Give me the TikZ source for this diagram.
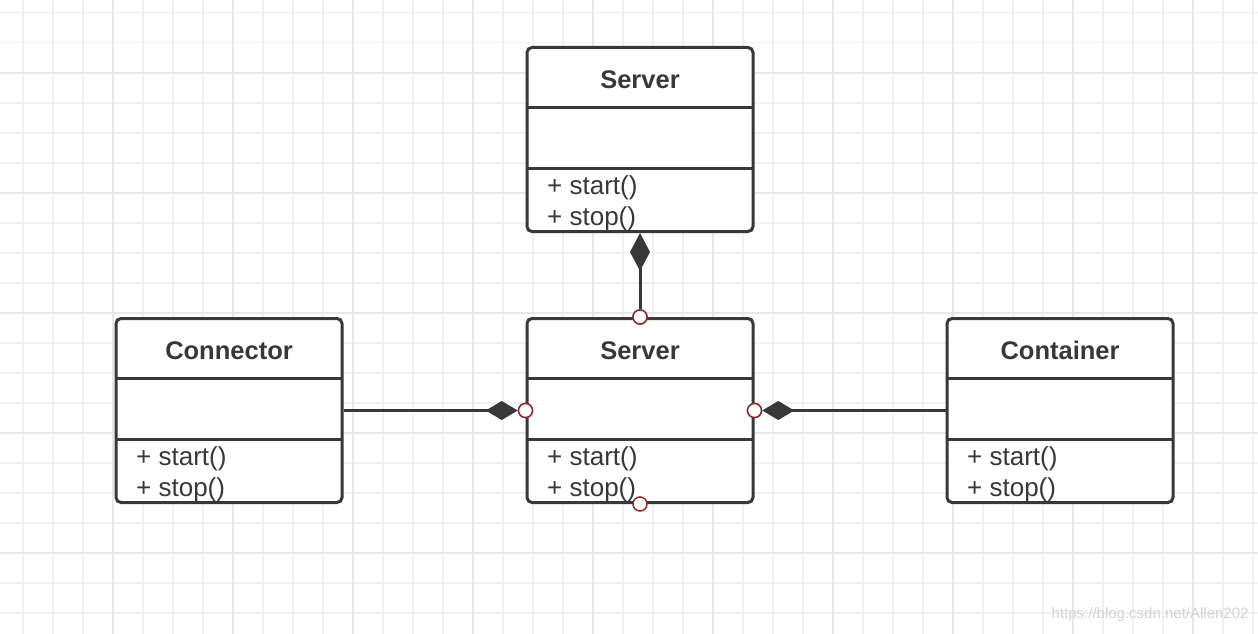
\documentclass[tikz,border=0pt]{standalone}
\usepackage{fontspec}
\setmainfont{Liberation Sans}
\usetikzlibrary{arrows.meta}
\definecolor{gridminor}{HTML}{F1F1F1}
\definecolor{gridmajor}{HTML}{E7E7E7}
\definecolor{boxline}{HTML}{383838}
\definecolor{portred}{HTML}{8E2B2B}
\definecolor{wmark}{HTML}{D4D4D4}

\begin{document}
\begin{tikzpicture}[x=1pt,y=-1pt,
  classbox/.style={draw=boxline,line width=3pt,rounded corners=5pt,fill=white,
    minimum width=226pt,minimum height=184pt,inner sep=0pt},
  divider/.style={draw=boxline,line width=3pt},
  title/.style={font=\fontsize{25.5}{30}\selectfont\bfseries,text=boxline},
  op/.style={font=\fontsize{26}{30}\selectfont,text=boxline,anchor=west,inner sep=0pt},
  port/.style={circle,draw=portred,fill=white,line width=1.5pt,minimum size=14pt,inner sep=0pt},
  comp/.style={draw=boxline,line width=3pt}]
\useasboundingbox (0,0) rectangle (1258,634);
\fill[white] (0,0) rectangle (1258,634);
% background grid
\foreach \i in {0,...,41} \draw[gridminor,line width=1.6pt] (22.7+30*\i,0) -- (22.7+30*\i,634);
\foreach \j in {0,...,20} \draw[gridminor,line width=1.6pt] (0,12.7+30*\j) -- (1258,12.7+30*\j);
\foreach \i in {0,...,9} \draw[gridmajor,line width=1.8pt] (112.7+120*\i,0) -- (112.7+120*\i,634);
\foreach \j in {0,...,4} \draw[gridmajor,line width=1.8pt] (0,72.7+120*\j) -- (1258,72.7+120*\j);
% classes
\foreach \nm/\cx/\cy/\title in {srvtop/640/139.5/Server, conn/229/410.5/Connector,
    srv/640/410.5/Server, cont/1060/410.5/Container} {
  \node[classbox] (\nm) at (\cx,\cy) {};
  \draw[divider] (\cx-113,\cy-32) -- (\cx+113,\cy-32);
  \draw[divider] (\cx-113,\cy+29) -- (\cx+113,\cy+29);
  \node[title] (\nm-title) at (\cx,\cy-60) {\title};
  \node[op] (\nm-start) at (\cx-93,\cy+48) {+ start()};
  \node[op] (\nm-stop) at (\cx-93,\cy+79) {+ stop()};
}
% ports on the middle server
\node[port] (srv-n) at (srv.north) {};
\node[port] (srv-w) at (srv.west) {};
\node[port] (srv-e) at (srv.east) {};
\node[port] (srv-s) at (srv.south) {};
% composition links
\draw[comp,{Diamond[length=38pt,width=20pt]}-] (srvtop.south) -- (srv-n.north);
\draw[comp,-{Diamond[length=32pt,width=19pt]}] (conn.east) -- (srv-w.west);
\draw[comp,-{Diamond[length=32pt,width=19pt]}] (cont.west) -- (srv-e.east);
\node[port] at (srv-n) {};
\node[port] at (srv-w) {};
\node[port] at (srv-e) {};
% watermark
\node[anchor=east,text=wmark,font=\fontsize{15}{18}\selectfont] (wm) at (1252,615) {https://blog.csdn.net/Allen202};
\end{tikzpicture}
\end{document}
